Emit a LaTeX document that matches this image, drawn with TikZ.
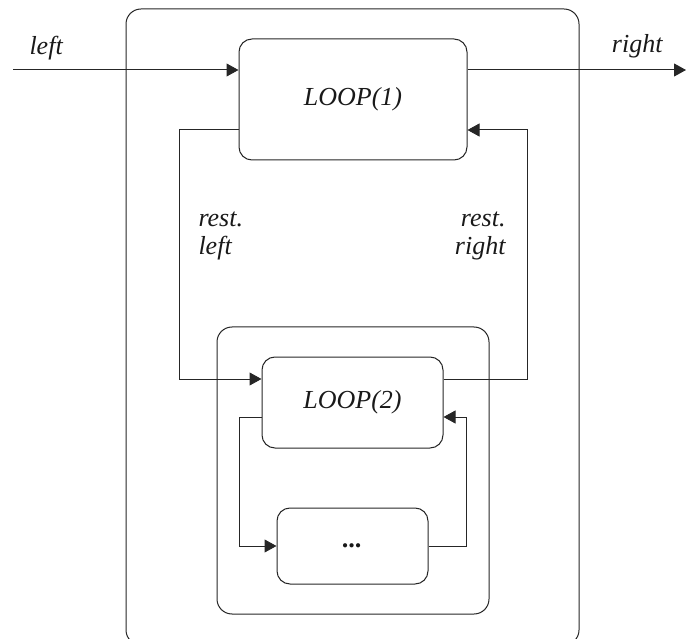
\documentclass[tikz,border=0pt]{standalone}
\usepackage{fontspec}
\setmainfont{Liberation Serif}
\usetikzlibrary{arrows.meta}
\begin{document}
\begin{tikzpicture}[x=1pt,y=-1pt,
  line width=1pt,
  every node/.style={font=\fontsize{26}{30}\selectfont\itshape, text=black!90},
  box/.style={draw=black!85, rectangle, rounded corners=#1, inner sep=0pt},
  box/.default=13pt,
  arr/.style={draw=black!85, -{Triangle[length=12pt,width=13pt]}},
  lbl/.style={inner sep=0pt}]
\useasboundingbox (0,0) rectangle (686,639);
% boxes
\node[box=15pt, minimum width=453pt, minimum height=636pt] (outer) at (352.5,327) {};
\node[box=15pt, minimum width=272pt, minimum height=287pt] (inner) at (353,470.5) {};
\node[box, minimum width=228pt, minimum height=121pt] (loop1) at (353,99.5) {LOOP(1)};
\node[box, minimum width=181pt, minimum height=91pt] (loop2) at (352.5,402.5) {LOOP(2)};
\node[box, minimum width=151pt, minimum height=76pt] (dots) at (352.5,546) {\bfseries ...};
% helper coordinates
\coordinate (inL) at (13,70);
\coordinate (outR) at (686,70);
\coordinate (yA) at (0,130);
\coordinate (yB) at (0,379);
\coordinate (yC) at (0,417);
\coordinate (yD) at (0,546);
\coordinate (xL) at (179,0);
\coordinate (xR) at (527,0);
\coordinate (xl) at (239,0);
\coordinate (xr) at (466,0);
% connectors
\draw[arr] (inL) -- (inL -| loop1.west);
\draw[arr] (loop1.east |- inL) -- (outR);
\draw[arr] (loop1.west |- yA) -| (xL |- yB) -- (loop2.west |- yB);
\draw[arr] (loop2.east |- yB) -| (xR |- yA) -- (loop1.east |- yA);
\draw[arr] (loop2.west |- yC) -| (xl |- yD) -- (dots.west |- yD);
\draw[arr] (dots.east |- yD) -| (xr |- yC) -- (loop2.east |- yC);
% labels
\node[lbl, anchor=base west] (tleft) at (29,55) {left};
\node[lbl, anchor=base east] (tright) at (663,53) {right};
\node[lbl, anchor=base west] (rl1) at (198,227) {rest.};
\node[lbl, anchor=base west] (rl2) at (198,255) {left};
\node[lbl, anchor=base east] (rr1) at (506,227) {rest.};
\node[lbl, anchor=base east] (rr2) at (506,255) {right};
\end{tikzpicture}
\end{document}
